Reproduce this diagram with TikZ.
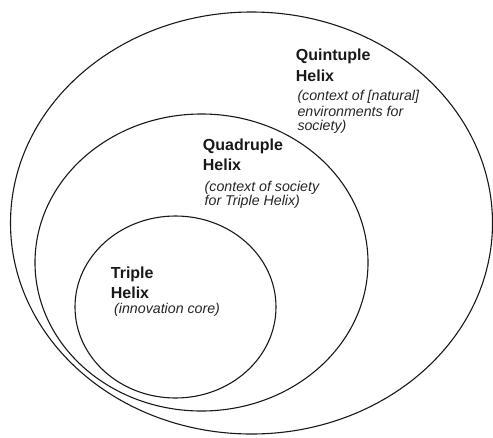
\documentclass[tikz,border=0pt]{standalone}
\usepackage{fontspec}
\setmainfont{Liberation Sans}
\begin{document}
\begin{tikzpicture}[x=1pt,y=-1pt,
  ring/.style={draw=black!90, line width=1.1pt},
  title/.style={anchor=base west, inner sep=0pt, text=black!90,
    font=\fontsize{16}{21}\selectfont\bfseries},
  desc/.style={anchor=base west, inner sep=0pt, text=black!85,
    font=\fontsize{14.2}{15}\selectfont\itshape}]
\useasboundingbox (0,0) rectangle (493,437);
% ellipses
\draw[ring] (251.5,223) ellipse [x radius=241pt, y radius=211pt];
\draw[ring] (201.5,262.5) ellipse [x radius=166.5pt, y radius=148.5pt];
\draw[ring] (175.5,307) ellipse [x radius=100.5pt, y radius=91pt];
% Quintuple Helix
\node[title] (qt1) at (295.7,60.7) {Quintuple};
\node[title] (qt2) at (295.7,81.7) {Helix};
\node[desc] (qd1) at (297.3,100.7) {(context of [natural]};
\node[desc] (qd2) at (297.3,116) {environments for};
\node[desc] (qd3) at (297.3,130.5) {society)};
% Quadruple Helix
\node[title] (dt1) at (202.7,150.7) {Quadruple};
\node[title] (dt2) at (202.7,170.7) {Helix};
\node[desc] (dd1) at (204.5,191) {(context of society};
\node[desc] (dd2) at (204.5,205.5) {for Triple Helix)};
% Triple Helix
\node[title] (tt1) at (110.7,278) {Triple};
\node[title] (tt2) at (110.7,298) {Helix};
\node[desc] (td1) at (114,313) {(innovation core)};
\end{tikzpicture}
\end{document}
